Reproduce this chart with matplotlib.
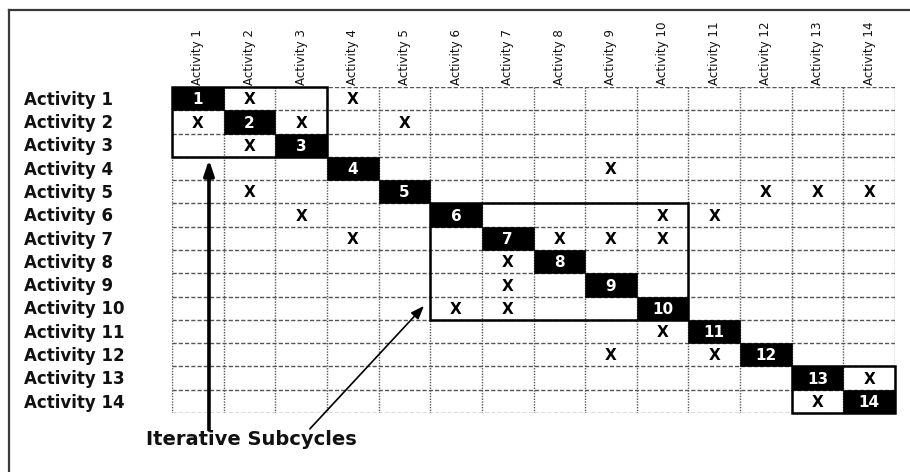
import matplotlib
matplotlib.use("Agg")
import matplotlib.pyplot as plt
from matplotlib.patches import Rectangle
from matplotlib.lines import Line2D

# ---------------- data ----------------
row_labels = ["Activity 1", "Activity 2", "Activity 3", "Activity 4", "Activity 5",
              "Activity 6", "Activity 7", "Activity 8", "Activity 9", "Activity 10",
              "Activity 11", "Activity 12", "Activity 13", "Activity 14"]
col_labels = list(row_labels)
diag_numbers = ["1", "2", "3", "4", "5", "6", "7", "8", "9", "10", "11", "12", "13", "14"]
# dependency marks (row, column), 1-based
mark_rows = [1, 1, 2, 2, 2, 3, 4, 5, 5, 5, 5, 6, 6, 6, 7, 7, 7, 7, 8, 9, 10, 10, 11, 12, 12, 13, 14]
mark_cols = [2, 4, 1, 3, 5, 2, 9, 2, 12, 13, 14, 3, 10, 11, 4, 8, 9, 10, 7, 7, 6, 7, 10, 9, 11, 14, 13]
# iterative subcycle blocks (first activity, last activity)
block_start = [1, 6, 13]
block_end = [3, 10, 14]
annotation_text = "Iterative Subcycles"

# ---------------- figure ----------------
W, H = 910, 472
fig = plt.figure(figsize=(W / 100, H / 100), dpi=100)
fig.patch.set_facecolor("white")

# outer frame (top and left edges visible)
fig.add_artist(Line2D([9 / W, 1.0], [1 - 10 / H, 1 - 10 / H], color="#3a3a3a", lw=1.6))
fig.add_artist(Line2D([9 / W, 9 / W], [1 - 10 / H, 0.0], color="#3a3a3a", lw=1.6))

left, right, top, bottom = 172, 895, 87, 413
ax = fig.add_axes([left / W, 1 - bottom / H, (right - left) / W, (bottom - top) / H])
n = len(row_labels)
ax.set_xlim(0, n)
ax.set_ylim(n, 0)
ax.axis("off")

grid_color = "#555555"
# grid lines
ax.hlines(range(n + 1), 0, n, colors=grid_color, lw=1.0, linestyles=(0, (3, 1.5)), zorder=1)
ax.vlines(range(n + 1), 0, n, colors=grid_color, lw=1.0, linestyles=(0, (1, 1)), zorder=1)

# diagonal cells
for i, num in enumerate(diag_numbers):
    ax.add_patch(Rectangle((i, i), 1, 1, facecolor="black", edgecolor="black", lw=0.5, zorder=3))
    ax.text(i + 0.5, i + 0.55, num, color="white", ha="center", va="center",
            fontsize=11, fontweight="bold", zorder=4)

# X marks
for r, c in zip(mark_rows, mark_cols):
    ax.text(c - 0.5, r - 0.45, "X", color="black", ha="center", va="center",
            fontsize=11, fontweight="bold", zorder=4)

# subcycle boxes
for s, e in zip(block_start, block_end):
    ax.add_patch(Rectangle((s - 1, s - 1), e - s + 1, e - s + 1, fill=False,
                           edgecolor="black", lw=1.8, zorder=2, clip_on=False))

# row labels
for i, lab in enumerate(row_labels):
    ax.text(-2.87, i + 0.55, lab, ha="left", va="center", fontsize=12,
            fontweight="bold", color="#111111", clip_on=False)

# column labels
for j, lab in enumerate(col_labels):
    ax.text(j + 0.5, -0.1, lab, ha="center", va="bottom", rotation=90,
            fontsize=8.6, color="#111111", clip_on=False)

# arrows
ax.annotate("", xy=(0.716, 3.12), xytext=(0.716, 14.73), xycoords="data",
            arrowprops=dict(arrowstyle="-|>,head_length=0.9,head_width=0.3",
                            color="black", lw=2.6, shrinkA=0, shrinkB=0),
            annotation_clip=False)
ax.annotate("", xy=(4.88, 9.40), xytext=(2.67, 14.68), xycoords="data",
            arrowprops=dict(arrowstyle="-|>,head_length=0.8,head_width=0.3",
                            color="black", lw=1.2, shrinkA=0, shrinkB=0),
            annotation_clip=False)

ax.text(1.53, 15.12, annotation_text, ha="center", va="center", fontsize=14,
        fontweight="bold", color="#111111", clip_on=False)

fig.savefig("out.png", dpi=100, facecolor="white")
